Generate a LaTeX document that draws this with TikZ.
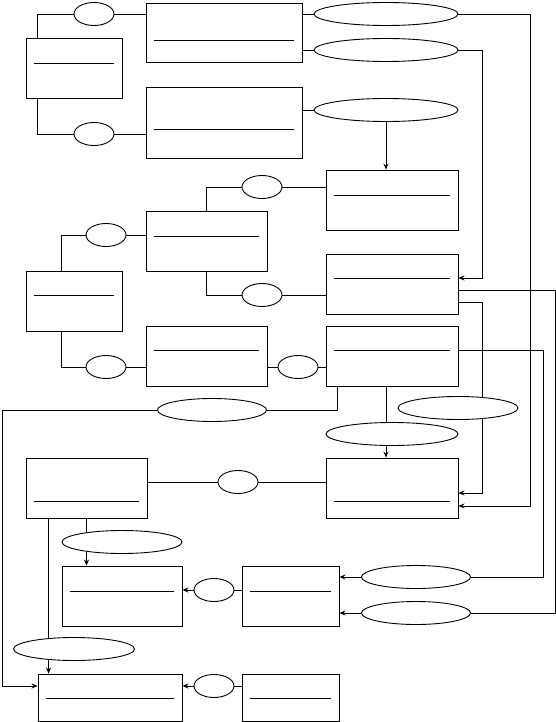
\documentclass[tikz,border=0pt]{standalone}
\usetikzlibrary{arrows.meta,shapes.geometric}

\begin{document}
\begin{tikzpicture}[x=1pt,y=-1pt,line width=0.9pt,
 box/.style={draw,rectangle,inner sep=0pt,minimum width=#1,minimum height=60pt},
 rel/.style={draw,ellipse,inner sep=0pt,minimum width=#1,minimum height=23pt},
 arr/.style={-{Stealth[length=6pt,width=5pt]}}]
\useasboundingbox (0,0) rectangle (556,722);
% entity boxes
\node[box=96pt] (a) at (74,68) {};
\node[box=156pt,minimum height=59pt] (b1) at (224,32.5) {};
\node[box=156pt,minimum height=71pt] (b2) at (224,122.5) {};
\node[box=132pt] (c1) at (392,200) {};
\node[box=121pt] (d) at (206.5,241) {};
\node[box=96pt] (e) at (74,301) {};
\node[box=132pt] (c2) at (392,284) {};
\node[box=121pt] (f) at (206.5,356) {};
\node[box=132pt] (c3) at (392,356) {};
\node[box=121pt] (g) at (86.5,488) {};
\node[box=132pt] (c4) at (392,488) {};
\node[box=120pt] (i) at (122,596) {};
\node[box=97pt] (j) at (290.5,596) {};
\node[box=144pt,minimum height=47pt] (h) at (110,697.5) {};
\node[box=97pt,minimum height=47pt] (k) at (290.5,697.5) {};
\foreach \b/\d in {a/26,b1/38,b2/43,c1/26,d/26,e/25,c2/25,f/25,c3/25,g/44,c4/44,i/26,j/26,h/25,k/25}
 \draw ([xshift=8pt,yshift=-\d pt]\b.north west) -- ([xshift=-8pt,yshift=-\d pt]\b.north east);
% relations
\node[rel=40pt] (r1) at (94,14) {};
\node[rel=40pt] (r2) at (94,134) {};
\node[rel=144pt] (r3) at (386,14) {};
\node[rel=144pt] (r4) at (386,50) {};
\node[rel=144pt] (r5) at (386,110) {};
\node[rel=40pt] (r6) at (262,187) {};
\node[rel=40pt] (r7) at (106,235) {};
\node[rel=40pt] (r8) at (262,295) {};
\node[rel=40pt] (r9) at (106,367) {};
\node[rel=40pt] (r10) at (298,367) {};
\node[rel=109pt] (r11) at (212,410) {};
\node[rel=40pt] (r12) at (238,482) {};
\node[rel=120pt] (r13) at (122,542) {};
\node[rel=121pt] (r14) at (74,649) {};
\node[rel=120pt] (r15) at (458,408) {};
\node[rel=132pt] (r16) at (392,434) {};
\node[rel=40pt] (r17) at (214,590) {};
\node[rel=40pt] (r18) at (214,686) {};
\node[rel=109pt] (r19) at (416,577) {};
\node[rel=109pt] (r20) at (416,613) {};
\coordinate (bend1) at (555,613);
\coordinate (bend2) at (543,577);
\coordinate (bend3) at (2,686);
\coordinate (gl) at ([xshift=23pt]g.south west);
% top part
\draw ([xshift=12pt]a.north west) |- (r1);
\draw (r1) -- (r1 -| b1.west);
\draw ([xshift=12pt]a.south west) |- (r2);
\draw (r2) -- (r2 -| b2.west);
\draw (r3 -| b1.east) -- (r3);
\draw (r4 -| b1.east) -- (r4);
\draw (r5 -| b2.east) -- (r5);
\draw[arr] (r5) -- (r5 |- c1.north);
\draw[arr] (r3) -| ([xshift=72pt,yshift=-18pt]c4.east) -- ([yshift=-18pt]c4.east);
\draw[arr] (r4) -| ([xshift=24pt,yshift=6pt]c2.east) -- ([yshift=6pt]c2.east);
% middle part
\draw (d.north) |- (r6);
\draw (r6) -- (r6 -| c1.west);
\draw ([xshift=36pt]e.north west) |- (r7);
\draw (r7) -- (r7 -| d.west);
\draw (d.south) |- (r8);
\draw (r8) -- (r8 -| c2.west);
\draw ([xshift=36pt]e.south west) |- (r9);
\draw (r9) -- (r9 -| f.west);
\draw (r10 -| f.east) -- (r10);
\draw (r10) -- (r10 -| c3.west);
\draw ([yshift=-18pt]c2.east) -| (r15.24);
\draw[arr] (r15.-24) |- ([yshift=-5pt]c4.east);
\draw ([yshift=-6pt]c2.east) -| (bend1) -- (r20);
\draw[arr] (r20) -- (r20 -| j.east);
\draw ([yshift=6pt]c3.east) -| (bend2) -- (r19);
\draw[arr] (r19) -- (r19 -| j.east);
\draw ([xshift=-6pt]c3.south) -- ([xshift=-6pt]r16.north);
\draw[arr] ([xshift=-6pt]r16.south) -- ([xshift=-6pt]c4.north);
\draw ([xshift=12pt]c3.south west) |- (r11);
\draw[arr] (r11) -| (bend3) -- (bend3 -| h.west);
% bottom part
\draw (r12 -| g.east) -- (r12);
\draw (r12) -- (r12 -| c4.west);
\draw (g.south) -- (g.south |- r13.165);
\draw[arr] (g.south |- r13.-165) -- (g.south |- i.north);
\draw (gl) -- (gl |- r14.156);
\draw[arr] (gl |- r14.-156) -- (gl |- h.north);
\draw (r17) -- (r17 -| j.west);
\draw[arr] (r17) -- (r17 -| i.east);
\draw (r18) -- (r18 -| k.west);
\draw[arr] (r18) -- (r18 -| h.east);
\end{tikzpicture}
\end{document}
